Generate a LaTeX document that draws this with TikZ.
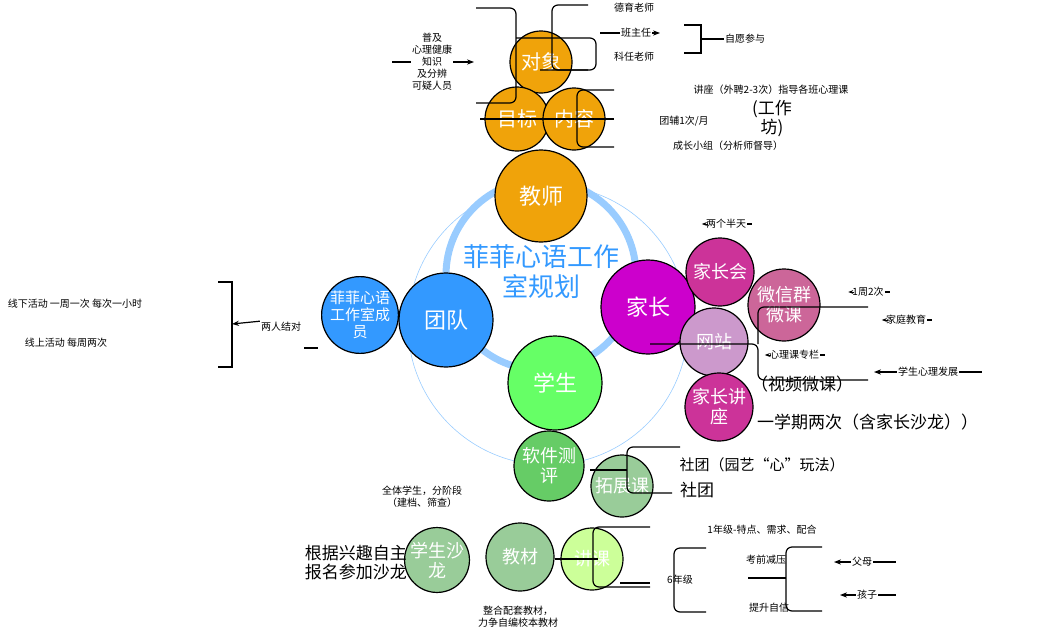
\documentclass[tikz,border=0pt]{standalone}
\usepackage{fontspec}
\setmainfont{Noto Sans CJK SC}
\usetikzlibrary{arrows.meta}
\definecolor{orng}{HTML}{F0A30A}
\definecolor{ringblue}{HTML}{99CCFF}
\definecolor{teamblue}{HTML}{3399FF}
\tikzstyle{bubble}=[circle,draw=black,line width=1.2pt,text=white,align=center,inner sep=0pt,font=\fontsize{20}{22}\selectfont]
\tikzstyle{note}=[font=\fontsize{10}{12}\selectfont,align=center,inner sep=1pt]
\tikzstyle{bignote}=[font=\fontsize{17}{19}\selectfont,align=center,inner sep=1pt]
\tikzstyle{wire}=[line width=1.2pt,rounded corners=6pt]
\tikzstyle{pointer}=[line width=1.2pt,-{Stealth[length=7pt]}]
\tikzstyle{tip}=[line width=1pt,-{Stealth[length=5pt]}]
\newcommand{\tagnote}[1]{%
  \draw[tip] ([xshift=3pt]#1.west) -- ([xshift=-3pt]#1.west);
  \draw[line width=1.2pt] (#1.east) -- ++(5,0);
}
\begin{document}
\begin{tikzpicture}[x=1pt,y=-1pt]
\useasboundingbox (0,0) rectangle (1063,640);
% rings
\draw[ringblue,line width=7pt] (541,275) circle (95);
\draw[ringblue,line width=0.6pt] (548,325) circle (140);
\node[text=teamblue,font=\fontsize{26}{30}\selectfont,align=center] (title) at (541,272) {菲菲心语工作\\室规划};
% teacher branch
\node[bubble,fill=orng,minimum size=62] (obj) at (541,62) {对象};
\node[bubble,fill=orng,minimum size=64] (goal) at (517,119) {目标};
\node[bubble,fill=orng,minimum size=62] (cont) at (574,119) {内容};
\node[bubble,fill=orng,minimum size=92,font=\fontsize{22}{24}\selectfont] (teach) at (541,196) {教师};
% team branch
\node[bubble,fill=teamblue,minimum size=94,font=\fontsize{22}{24}\selectfont] (team) at (446,320) {团队};
\node[bubble,fill=teamblue,minimum size=76,font=\fontsize{15}{17}\selectfont] (members) at (360,315) {菲菲心语\\工作室成\\员};
% student
\node[bubble,fill={rgb,255:red,102;green,255;blue,102},minimum size=94,font=\fontsize{22}{24}\selectfont] (stud) at (555,383) {学生};
% parent branch
\node[bubble,fill={rgb,255:red,204;green,0;blue,204},minimum size=94,font=\fontsize{22}{24}\selectfont] (par) at (648,307) {家长};
\node[bubble,fill={rgb,255:red,204;green,51;blue,153},minimum size=68,font=\fontsize{18}{20}\selectfont] (meet) at (720,272) {家长会};
\node[bubble,fill={rgb,255:red,204;green,102;blue,153},minimum size=72,font=\fontsize{18}{20}\selectfont] (wechat) at (784,305) {微信群\\微课};
\node[bubble,fill={rgb,255:red,204;green,153;blue,204},minimum size=68,font=\fontsize{18}{20}\selectfont] (web) at (714,342) {网站};
\node[bubble,fill={rgb,255:red,204;green,51;blue,153},minimum size=68,font=\fontsize{18}{20}\selectfont] (talk) at (719,407) {家长讲\\座};
% student sub
\node[bubble,fill={rgb,255:red,102;green,204;blue,102},minimum size=70,font=\fontsize{18}{20}\selectfont] (test) at (549,466) {软件测\\评};
\node[bubble,fill={rgb,255:red,153;green,204;blue,153},minimum size=62,font=\fontsize{18}{20}\selectfont] (ext) at (622,486) {拓展课};
\node[bubble,fill={rgb,255:red,153;green,204;blue,153},minimum size=62,font=\fontsize{18}{20}\selectfont] (salon) at (437,560) {学生沙\\龙};
\node[bubble,fill={rgb,255:red,153;green,204;blue,153},minimum size=68,font=\fontsize{18}{20}\selectfont] (book) at (520,557) {教材};
\node[bubble,fill={rgb,255:red,204;green,255;blue,153},minimum size=62,font=\fontsize{18}{20}\selectfont] (lect) at (592,559) {讲课};
% teacher notes
\node[note] (popular) at (432,62) {普及\\心理健康\\知识\\及分辨\\可疑人员};
\coordinate (pa) at (392,62);
\coordinate (pb) at (474,62);
\draw[line width=1.2pt] (pa) -- (popular.west);
\draw[pointer] (popular.east) -- (pb);
\draw[wire] (476,8) -- (516,8) -- (516,103) -- (476,103);
\draw[wire] (516,38) -- (596,38) -- (596,70) -- (540,70);
\node[note] (moral) at (634,8) {德育老师};
\node[note] (head) at (636,33) {班主任};
\node[note] (subj) at (634,57) {科任老师};
\draw[wire] (552,38) -- (552,5) -- (588,5);
\draw[wire] (552,38) -- (552,70) -- (588,70);
\draw[line width=1.2pt] (600,33) -- (head.west);
\draw[pointer] (head.east) -- (660,33);
\draw[line width=1.2pt] (684,25) -- (701,25) -- (701,53) -- (684,53);
\node[note,anchor=west] (will) at (724,39) {自愿参与};
\draw[line width=1.2pt] (701,39) -- (will.west);
\draw[wire] (480,119) -- (614,119);
\draw[wire] (614,90) -- (577,90) -- (577,147) -- (614,147);
\node[note] (lec) at (771,90) {讲座（外聘2-3次）指导各班心理课};
\node[bignote] (work) at (772,119) {(工作\\坊)};
\node[note] (group) at (684,121) {团辅1次/月};
\node[note] (grow) at (728,146) {成长小组（分析师督导）};
% team notes
\node[note] (pair) at (281,327) {两人结对};
\draw[line width=1.2pt] (218,282) -- (232,282) -- (232,367) -- (218,367);
\draw[pointer] (pair.north west) -- (232,324);
\draw[line width=1.2pt] (304,348) -- (318,348);
\node[note] (off) at (75,304) {线下活动 一周一次 每次一小时};
\node[note] (on) at (66,343) {线上活动 每周两次};
% parent notes
\node[note] (half) at (726,224) {两个半天};
\tagnote{half}
\draw[wire] (650,344) -- (758,344) -- (758,380) -- (868,380);
\draw[wire] (758,344) -- (758,307) -- (868,307);
\node[note] (twice) at (868,292) {1周2次};
\tagnote{twice}
\node[note] (home) at (906,320) {家庭教育};
\tagnote{home}
\node[note] (col) at (794,355) {心理课专栏};
\tagnote{col}
\node[note] (grow2) at (928,372) {学生心理发展};
\draw[line width=1.2pt] (grow2.east) -- (982,372);
\draw[pointer] (grow2.west) -- (874,372);
\node[bignote] (video) at (802,384) {（视频微课）};
\node[bignote,anchor=west] (term) at (756,422) {一学期两次（含家长沙龙））};
% student notes
\draw[wire] (680,447) -- (627,447) -- (627,493) -- (672,493);
\draw[wire] (590,470) -- (627,470);
\node[bignote,font=\fontsize{15}{17}\selectfont] (club1) at (762,465) {社团（园艺“心”玩法）};
\node[bignote] (club2) at (697,490) {社团};
\node[note] (all) at (422,497) {全体学生，分阶段\\（建档、筛查）};
\node[bignote,anchor=east] (free) at (408,563) {根据兴趣自主\\报名参加沙龙};
\node[note] (tb) at (518,617) {整合配套教材，\\力争自编校本教材};
\draw[wire] (555,559) -- (598,559);
\draw[wire] (650,527) -- (593,527) -- (593,587) -- (650,587);
\draw[line width=1.2pt] (620,583) -- (650,583);
\node[note] (g1) at (762,530) {1年级-特点、需求、配合};
\node[note] (g6) at (680,580) {6年级};
\draw[wire] (706,548) -- (674,548) -- (674,612) -- (706,612);
\draw[wire] (748,578) -- (786,578);
\draw[wire] (822,547) -- (786,547) -- (786,611) -- (822,611);
\node[note] (exam) at (766,560) {考前减压};
\node[note] (conf) at (769,608) {提升自信};
\node[note] (par2) at (862,562) {父母};
\draw[line width=1.2pt] (par2.east) -- (896,562);
\draw[pointer] (par2.west) -- (834,562);
\node[note] (kid) at (867,595) {孩子};
\draw[line width=1.2pt] (kid.east) -- (896,595);
\draw[pointer] (kid.west) -- (840,595);
\end{tikzpicture}
\end{document}
